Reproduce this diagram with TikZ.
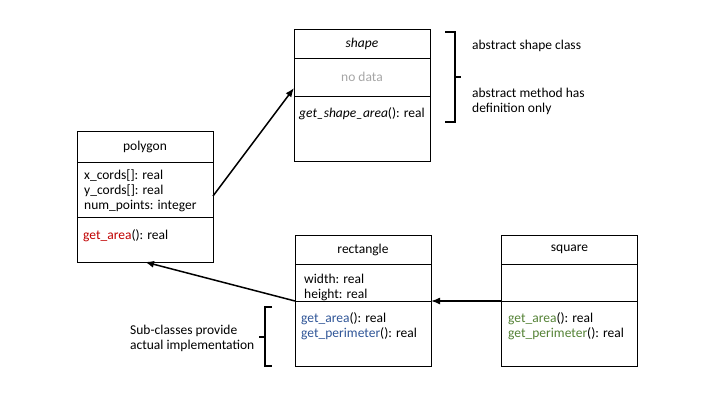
\documentclass[tikz,border=0pt]{standalone}
\usepackage{fontspec}
\setmainfont{Carlito}
\usepackage{tikz}
\usetikzlibrary{arrows.meta,positioning,calc}
\definecolor{opred}{HTML}{C00000}
\definecolor{opblue}{HTML}{2F5597}
\definecolor{opgreen}{HTML}{548235}
\definecolor{nodata}{HTML}{A6A6A6}

\begin{document}
\begin{tikzpicture}[x=1pt,y=-1pt,every node/.style={font=\fontsize{13.5}{15}\selectfont},part/.style={draw,line width=0.8pt,minimum width=136pt,inner sep=0pt,outer sep=0pt},txt/.style={inner sep=0pt,anchor=base west,align=left},inherit/.style={-{Latex[length=9pt,width=7pt]},line width=1.5pt},brk/.style={line width=1.3pt}]
\useasboundingbox (0,0) rectangle (720,405);
% abstract class
\node[part,minimum height=29pt] (shapename) at (362,43.5) {\textit{shape}};
\node[part,minimum height=38pt,below=0pt of shapename,text=nodata] (shapedata) {no data};
\node[part,minimum height=65pt,below=0pt of shapedata] (shapeops) {};
\node[txt] (shapeopstxt) at (299,117) {\textit{get\_shape\_area}(): real};
% polygon
\node[part,minimum height=31pt] (polyname) at (145,146.5) {polygon};
\node[part,minimum height=55pt,below=0pt of polyname] (polyattr) {};
\node[part,minimum height=45pt,below=0pt of polyattr] (polyops) {};
\node[txt] (polyattrtxt) at (84,209) {x\_cords[]: real\\ y\_cords[]: real\\ num\_points: integer};
\node[txt] (polyopstxt) at (83,239) {\textcolor{opred}{get\_area}(): real};
% rectangle
\node[part,minimum height=29pt] (rectname) at (363,249.5) {rectangle};
\node[part,minimum height=37pt,below=0pt of rectname] (rectattr) {};
\node[part,minimum height=65pt,below=0pt of rectattr] (rectops) {};
\node[txt] (rectattrtxt) at (304,298) {width: real\\ height: real};
\node[txt] (rectopstxt) at (301,337) {\textcolor{opblue}{get\_area}(): real\\ \textcolor{opblue}{get\_perimeter}(): real};
% square
\node[part,minimum height=29pt] (sqname) at (569.5,249.5) {square};
\node[part,minimum height=37pt,below=0pt of sqname] (sqattr) {};
\node[part,minimum height=65pt,below=0pt of sqattr] (sqops) {};
\node[txt] (sqopstxt) at (508,337) {\textcolor{opgreen}{get\_area}(): real\\ \textcolor{opgreen}{get\_perimeter}(): real};
% notes
\node[txt] (abstractnote) at (472,49) {abstract shape class};
\node[txt] (methodnote) at (472,112) {abstract method has\\ definition only};
\node[txt] (subnote) at (130,349) {Sub-classes provide\\ actual implementation};
\draw[brk] (445,32) -- (455,32) -- (455,122) -- (445,122);
\draw[brk] (455,77) -- (461,77);
\draw[brk] (272,307) -- (265,307) -- (265,366) -- (272,366);
\draw[brk] (265,337) -- (259,337);
% inheritance
\draw[inherit] ([yshift=-6.5pt]polyattr.east) -- ([yshift=-11pt]shapedata.west);
\draw[inherit] (rectops.north west) -- (polyops.south);
\draw[inherit] (sqops.north west) -- (rectops.north east);
\end{tikzpicture}
\end{document}
